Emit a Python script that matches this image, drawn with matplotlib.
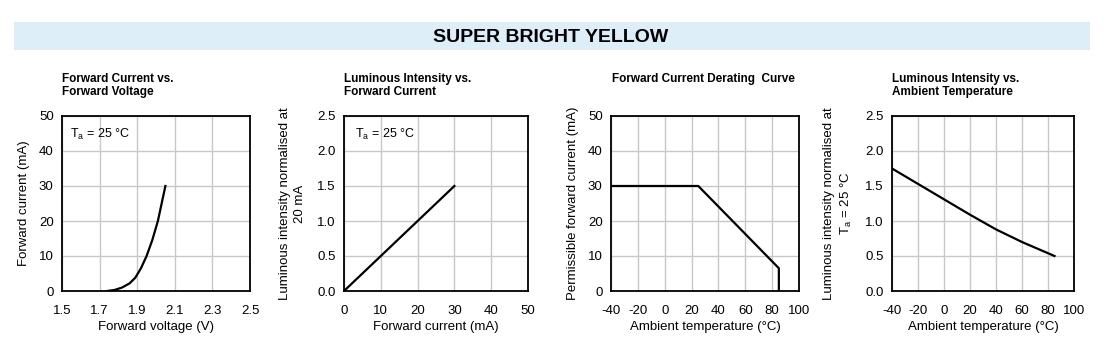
import matplotlib.pyplot as plt
from matplotlib.patches import Rectangle

plt.rcParams['font.family'] = ['Liberation Sans', 'DejaVu Sans']
plt.rcParams['axes.unicode_minus'] = False

# Forward current vs forward voltage
fv_voltage = [1.74, 1.78, 1.82, 1.86, 1.89, 1.92, 1.95, 1.98, 2.01, 2.05]
fv_current = [0, 0.3, 1.0, 2.2, 3.8, 6.5, 10, 14.5, 20, 30]

# Luminous intensity vs forward current
li_current = [0, 30]
li_intensity = [0, 1.5]

# Derating curve
der_temp = [-40, 25, 85, 85]
der_current = [30, 30, 6.5, 0]

# Luminous intensity vs ambient temperature
lt_temp = [-40, -20, 0, 20, 40, 60, 85]
lt_intensity = [1.75, 1.53, 1.31, 1.09, 0.88, 0.70, 0.5]

W, H = 1110, 346
fig = plt.figure(figsize=(W / 100, H / 100), dpi=100)

# banner
fig.patches.append(Rectangle((14 / W, 1 - 50 / H), 1076 / W, 28 / H,
                             transform=fig.transFigure, facecolor='#ddeef8',
                             edgecolor='none'))
fig.text(551 / W, 1 - 37 / H, 'SUPER BRIGHT YELLOW', ha='center', va='center',
         fontsize=14, fontweight='bold', fontstretch='condensed')


def make_axes(left, right):
    ax = fig.add_axes([left / W, 1 - 291 / H, (right - left) / W, 175 / H])
    ax.grid(True, color='#c8c8c8', linewidth=1)
    ax.set_axisbelow(True)
    for s in ax.spines.values():
        s.set_linewidth(1.3)
    ax.tick_params(length=0, labelsize=9.5)
    ax.tick_params(axis='x', pad=10)
    ax.tick_params(axis='y', pad=6)
    return ax


def panel_title(x, text):
    fig.text(x / W, 1 - 73 / H, text, ha='left', va='top', fontsize=8.5,
             fontweight='bold', linespacing=1.15)


# panel 1
ax1 = make_axes(62, 250)
ax1.plot(fv_voltage, fv_current, color='black', linewidth=1.6)
ax1.set_xlim(1.5, 2.5)
ax1.set_ylim(0, 50)
ax1.set_xticks([1.5, 1.7, 1.9, 2.1, 2.3, 2.5])
ax1.set_yticks([0, 10, 20, 30, 40, 50])
ax1.set_xlabel('Forward voltage (V)', fontsize=9.5, labelpad=3)
ax1.set_ylabel('Forward current (mA)', fontsize=9.5, labelpad=6)
ax1.text(0.04, 0.895, 'T$_\\mathregular{a}$ = 25 °C', transform=ax1.transAxes,
         fontsize=9, va='center')
panel_title(62, 'Forward Current vs.\nForward Voltage')

# panel 2
ax2 = make_axes(344, 528)
ax2.plot(li_current, li_intensity, color='black', linewidth=1.6)
ax2.set_xlim(0, 50)
ax2.set_ylim(0, 2.5)
ax2.set_xticks([0, 10, 20, 30, 40, 50])
ax2.set_yticks([0, 0.5, 1.0, 1.5, 2.0, 2.5])
ax2.set_yticklabels(['0.0', '0.5', '1.0', '1.5', '2.0', '2.5'])
ax2.set_xlabel('Forward current (mA)', fontsize=9.5, labelpad=3)
ax2.set_ylabel('Luminous intensity normalised at\n20 mA', fontsize=9.5,
               ha='center', linespacing=1.35, labelpad=8)
ax2.text(0.06, 0.895, 'T$_\\mathregular{a}$ = 25 °C', transform=ax2.transAxes,
         fontsize=9, va='center')
panel_title(344, 'Luminous Intensity vs.\nForward Current')

# panel 3
ax3 = make_axes(611, 799)
ax3.plot(der_temp, der_current, color='black', linewidth=1.6)
ax3.set_xlim(-40, 100)
ax3.set_ylim(0, 50)
ax3.set_xticks(range(-40, 101, 20))
ax3.set_yticks([0, 10, 20, 30, 40, 50])
ax3.set_xlabel('Ambient temperature (°C)', fontsize=9.5, labelpad=3)
ax3.set_ylabel('Permissible forward current (mA)', fontsize=9.5, labelpad=6)
panel_title(612, 'Forward Current Derating  Curve')

# panel 4
ax4 = make_axes(892, 1074)
ax4.plot(lt_temp, lt_intensity, color='black', linewidth=1.6)
ax4.set_xlim(-40, 100)
ax4.set_ylim(0, 2.5)
ax4.set_xticks(range(-40, 101, 20))
ax4.set_yticks([0, 0.5, 1.0, 1.5, 2.0, 2.5])
ax4.set_yticklabels(['0.0', '0.5', '1.0', '1.5', '2.0', '2.5'])
ax4.set_xlabel('Ambient temperature (°C)', fontsize=9.5, labelpad=3)
ax4.set_ylabel('Luminous intensity normalised at\nT$_\\mathregular{a}$ = 25 °C',
               fontsize=9.5, ha='center', linespacing=1.35, labelpad=8)
panel_title(892, 'Luminous Intensity vs.\nAmbient Temperature')

fig.savefig('out.png', dpi=100)
